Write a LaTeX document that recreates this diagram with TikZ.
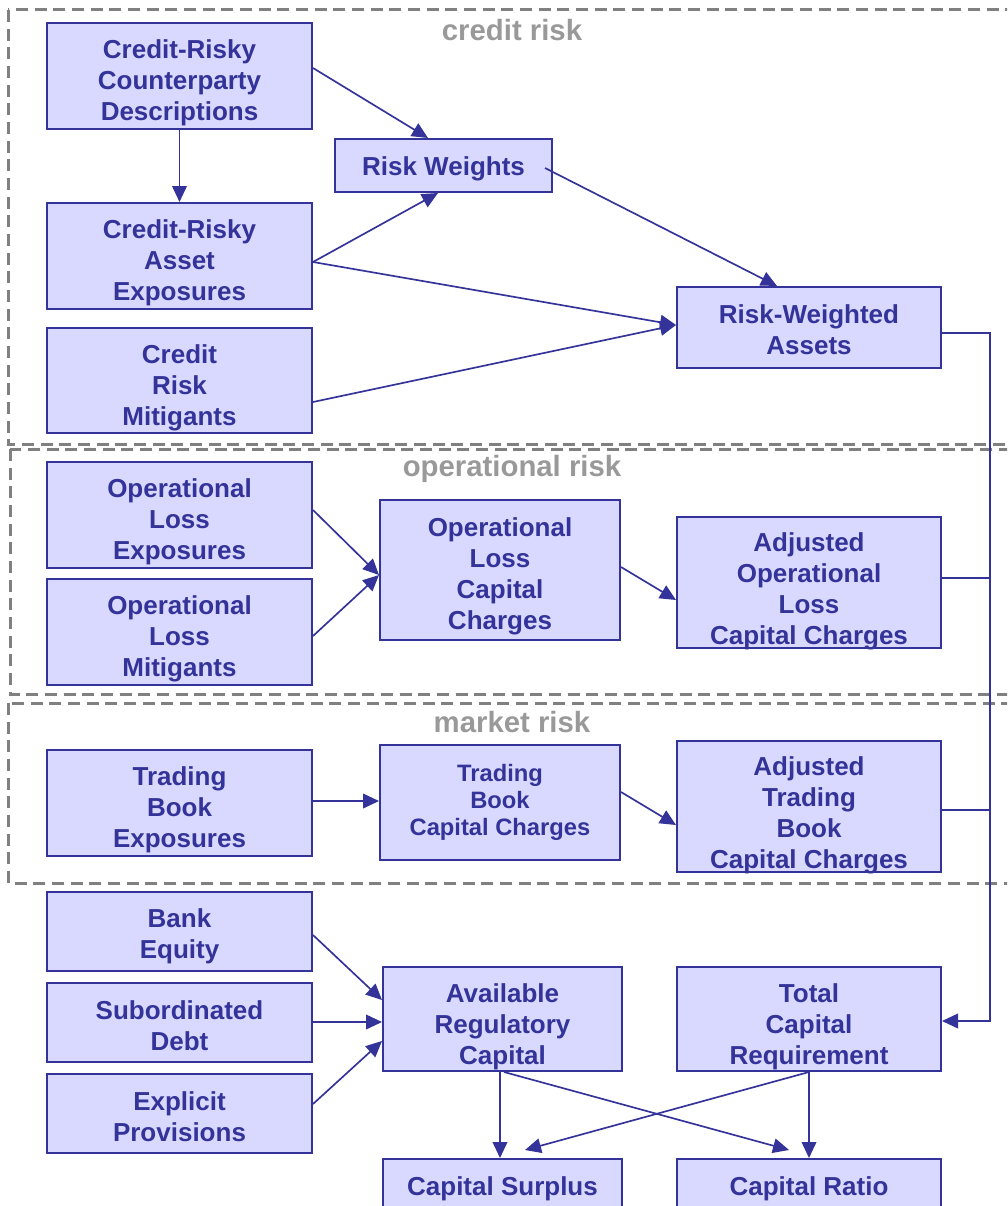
\documentclass[tikz,border=0pt]{standalone}
\usepackage{fontspec}
\setmainfont{Liberation Sans}
\usetikzlibrary{arrows.meta}
\definecolor{boxfill}{RGB}{217,217,255}
\definecolor{navy}{RGB}{51,51,153}
\definecolor{dgray}{RGB}{128,128,128}
\definecolor{lgray}{RGB}{153,153,153}
\tikzset{
  box/.style={draw=navy, fill=boxfill, line width=1.5pt, inner sep=0pt},
  boxtext/.style={inner sep=0pt, align=center, text=navy,
    font=\fontsize{19.5}{23.25}\selectfont\bfseries},
  smalltext/.style={boxtext, font=\fontsize{17.8}{20.5}\selectfont\bfseries},
  region/.style={draw=dgray, line width=2.25pt, dash pattern=on 9pt off 5pt},
  regionlabel/.style={text=lgray, font=\fontsize{22}{26}\selectfont\bfseries},
  arr/.style={draw=navy, line width=1.25pt, -{Triangle[length=12pt,width=11pt]}},
  conn/.style={draw=navy, line width=1.25pt}
}
% name, x1, y1, x2, y2, text style, text, downward text shift (px)
\newcommand\mkbox[8]{%
  \node[box, minimum width={(#4-#2)*0.75pt}, minimum height={(#5-#3)*0.75pt}]
    (#1) at ({(#2+#4)/2},{(#3+#5)/2}) {};
  \node[#6] (#1-t) at ([yshift={-(#8)*0.75pt}]#1.center) {#7};}
\begin{document}
\begin{tikzpicture}[x=0.75pt,y=-0.75pt]
\clip (0,0) rectangle (1007,1206);
\fill[white] (0,0) rectangle (1007,1206);
% regions
\draw[region] (8,10) rectangle (1040,444);
\draw[region] (10,449) rectangle (1040,694);
\draw[region] (8,703) rectangle (1040,883);
\node[regionlabel] (lcredit) at (512,30) {credit risk};
\node[regionlabel] (lop) at (512,469) {operational risk};
\node[regionlabel] (lmarket) at (512,722) {market risk};
% boxes
\mkbox{crcd}{47}{23}{312}{129}{boxtext}{Credit-Risky\\Counterparty\\Descriptions}{7}
\mkbox{rw}{335}{139}{552}{192}{boxtext}{Risk Weights}{3}
\mkbox{crae}{47}{203}{312}{309}{boxtext}{Credit-Risky\\Asset\\Exposures}{7}
\mkbox{crm}{47}{328}{312}{433}{boxtext}{Credit\\Risk\\Mitigants}{7}
\mkbox{rwa}{677}{287}{941}{368}{boxtext}{Risk-Weighted\\Assets}{2}
\mkbox{ole}{47}{462}{312}{568}{boxtext}{Operational\\Loss\\Exposures}{7}
\mkbox{olm}{47}{579}{312}{685}{boxtext}{Operational\\Loss\\Mitigants}{7}
\mkbox{olcc}{380}{500}{620}{640}{boxtext}{Operational\\Loss\\Capital\\Charges}{6}
\mkbox{aolcc}{677}{517}{941}{648}{boxtext}{Adjusted\\Operational\\Loss\\Capital Charges}{9}
\mkbox{tbe}{47}{750}{312}{856}{boxtext}{Trading\\Book\\Exposures}{7}
\mkbox{tbcc}{380}{745}{620}{860}{smalltext}{Trading\\Book\\Capital Charges}{0}
\mkbox{atbcc}{677}{741}{941}{872}{boxtext}{Adjusted\\Trading\\Book\\Capital Charges}{9}
\mkbox{be}{47}{892}{312}{971}{boxtext}{Bank\\Equity}{5}
\mkbox{sd}{47}{983}{312}{1062}{boxtext}{Subordinated\\Debt}{3}
\mkbox{ep}{47}{1074}{312}{1153}{boxtext}{Explicit\\Provisions}{3}
\mkbox{arc}{383}{967}{622}{1071}{boxtext}{Available\\Regulatory\\Capital}{8}
\mkbox{tcr}{677}{967}{941}{1071}{boxtext}{Total\\Capital\\Requirement}{8}
\mkbox{cs}{383}{1159}{622}{1215}{boxtext}{Capital Surplus}{2}
\mkbox{cr}{677}{1159}{941}{1215}{boxtext}{Capital Ratio}{2}
% credit connectors
\draw[arr] (crcd.east |- 0,68) -- (rw.north -| 428,0);
\draw[arr] (crcd.south) -- (crae.north);
\draw[arr] (crae.east |- 0,262) -- (rw.south -| 438,0);
\coordinate (rwout) at (545,168);
\draw[arr] (rwout) -- (rwa.north -| 777,0);
\draw[arr] (crae.east |- 0,262) -- (rwa.west |- 0,325);
\draw[arr] (crm.east |- 0,402) -- (rwa.west |- 0,325);
% bus
\coordinate (bt) at (990,333);
\coordinate (bb) at (990,1021);
\coordinate (bop) at (990,578);
\coordinate (bmk) at (990,810);
\draw[arr] (rwa.east |- bt) -- (bt) -- (bb) -- (tcr.east |- bb);
\draw[conn] (aolcc.east |- bop) -- (bop);
\draw[conn] (atbcc.east |- bmk) -- (bmk);
% operational
\draw[arr] (ole.east |- 0,510) -- (olcc.west |- 0,575);
\draw[arr] (olm.east |- 0,636) -- (olcc.west |- 0,575);
\draw[arr] (olcc.east |- 0,567) -- (aolcc.west |- 0,600);
% market
\draw[arr] (tbe.east |- 0,801) -- (tbcc.west |- 0,801);
\draw[arr] (tbcc.east |- 0,792) -- (atbcc.west |- 0,825);
% capital
\draw[arr] (be.east |- 0,935) -- (arc.west |- 0,1000);
\draw[arr] (sd.east |- 0,1022) -- (arc.west |- 0,1022);
\draw[arr] (ep.east |- 0,1104) -- (arc.west |- 0,1041);
\draw[arr] (arc.south -| 500,0) -- (cs.north -| 500,0);
\draw[arr] (arc.south -| 504,0) -- (789,1150);
\draw[arr] (tcr.south -| 809,0) -- (525,1150);
\draw[arr] (tcr.south -| 809,0) -- (cr.north -| 809,0);
\end{tikzpicture}
\end{document}
